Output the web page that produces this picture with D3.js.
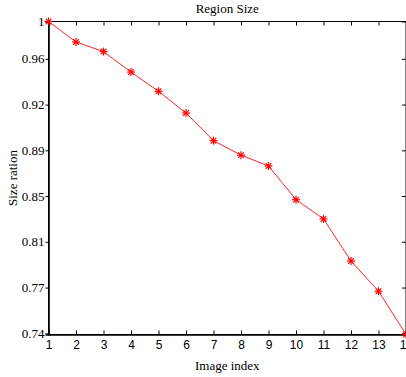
<!DOCTYPE html>
<html><head><meta charset="utf-8">
<script src="https://cdn.jsdelivr.net/npm/d3@7"></script>
<style>body{margin:0;background:#fff}svg{display:block}</style>
</head><body><svg id="c" width="406" height="377"></svg>
<script>
const imageIndex = [1,2,3,4,5,6,7,8,9,10,11,12,13,14];
const sizeRatio = [1.0,0.983,0.975,0.958,0.942,0.924,0.901,0.889,0.880,0.852,0.836,0.801,0.776,0.740];
const yTickValues = [1.0,0.969,0.931,0.893,0.855,0.817,0.779,0.741];
const yTickLabels = ["1","0.96","0.92","0.89","0.85","0.81","0.77","0.74"];
const xTickValues = [1,2,3,4,5,6,7,8,9,10,11,12,13,14];
const title = "Region Size", xTitle = "Image index", yTitle = "Size ration";

const svg = d3.select("#c");
const L = 48.5, R = 406, T = 21.5, B = 334.5;
const x = d3.scaleLinear().domain([1,14]).range([L,R]);
const y = d3.scaleLinear().domain([0.74,1.0]).range([B,T]);

// frame
svg.append("rect").attr("x",L).attr("y",T).attr("width",R-L).attr("height",B-T)
  .attr("fill","none").attr("stroke","#000").attr("stroke-width",1);

// bottom axis
const xb = svg.append("g").attr("transform",`translate(0,${B})`)
  .call(d3.axisBottom(x).tickValues(xTickValues).tickSize(-4).tickPadding(6).tickFormat(d3.format("d")));
xb.select(".domain").attr("stroke","#000").attr("stroke-width",1.3);
xb.selectAll("text").attr("font-family","Liberation Sans, Arial, sans-serif").attr("font-size",12).attr("fill","#000");
// top axis ticks
const xt = svg.append("g").attr("transform",`translate(0,${T})`)
  .call(d3.axisTop(x).tickValues(xTickValues).tickSize(-4).tickFormat(""));
xt.select(".domain").remove();

// left axis
const yl = svg.append("g").attr("transform",`translate(${L},0)`)
  .call(d3.axisLeft(y).tickValues(yTickValues).tickSize(3).tickPadding(1).tickFormat((d,i)=>yTickLabels[i]));
yl.select(".domain").attr("stroke","#000").attr("stroke-width",1.6);
yl.selectAll("text").attr("font-family","Liberation Serif, Times New Roman, serif").attr("font-size",13).attr("fill","#000");
// right ticks
const yr = svg.append("g").attr("transform",`translate(${R},0)`)
  .call(d3.axisRight(y).tickValues(yTickValues).tickSize(-4).tickFormat(""));
yr.select(".domain").remove();

// line
const line = d3.line().x((d,i)=>x(imageIndex[i])).y(d=>y(d));
svg.append("path").datum(sizeRatio).attr("d",line).attr("fill","none")
  .attr("stroke","#ff0000").attr("stroke-width",1).attr("opacity",0.85);

// asterisk markers
const star = d3.symbol().type(d3.symbolAsterisk || d3.symbolCross).size(50);
const m = svg.append("g");
sizeRatio.forEach((v,i)=>{
  const cx = x(imageIndex[i]), cy = y(v), r = 4;
  const g = m.append("g").attr("transform",`translate(${cx},${cy})`).attr("stroke","#ff0000").attr("stroke-width",1.2);
  g.append("line").attr("x1",0).attr("y1",-r).attr("x2",0).attr("y2",r);
  g.append("line").attr("x1",-r).attr("y1",0).attr("x2",r).attr("y2",0);
  g.append("line").attr("x1",-r*0.7).attr("y1",-r*0.7).attr("x2",r*0.7).attr("y2",r*0.7);
  g.append("line").attr("x1",-r*0.7).attr("y1",r*0.7).attr("x2",r*0.7).attr("y2",-r*0.7);
});

// titles
svg.append("text").attr("x",(L+R)/2).attr("y",13).attr("text-anchor","middle")
  .attr("font-family","Liberation Serif, serif").attr("font-size",13).text(title);
svg.append("text").attr("x",(L+R)/2).attr("y",370).attr("text-anchor","middle")
  .attr("font-family","Liberation Serif, serif").attr("font-size",13).text(xTitle);
svg.append("text").attr("transform",`translate(17,${(T+B)/2}) rotate(-90)`).attr("text-anchor","middle")
  .attr("font-family","Liberation Serif, serif").attr("font-size",13).text(yTitle);
</script></body></html>
